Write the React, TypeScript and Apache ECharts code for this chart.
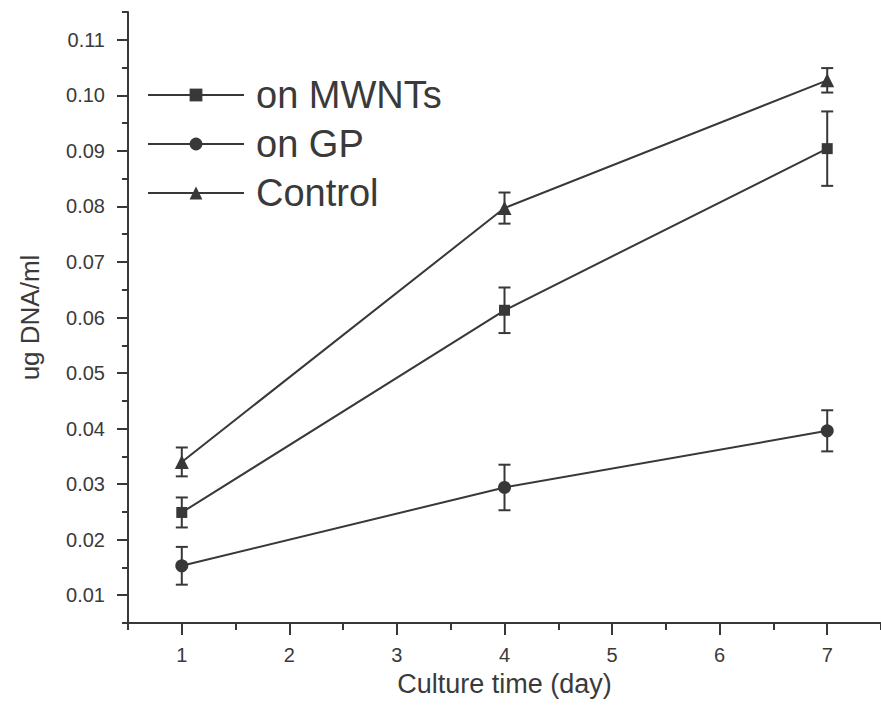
import React, { useEffect, useRef } from "react";
import * as echarts from "echarts";

const days = [1, 4, 7];
const seriesNames = ["on MWNTs", "on GP", "Control"];
const mwntsMean = [0.0249, 0.0613, 0.0904];
const mwntsErr = [0.0027, 0.0041, 0.0067];
const gpMean = [0.0153, 0.0294, 0.0396];
const gpErr = [0.0034, 0.0041, 0.0037];
const controlMean = [0.0340, 0.0797, 0.1027];
const controlErr = [0.0026, 0.0028, 0.0022];
const xMajorTicks = [1, 2, 3, 4, 5, 6, 7];
const yMajorTicks = [0.01, 0.02, 0.03, 0.04, 0.05, 0.06, 0.07, 0.08, 0.09, 0.1, 0.11];

const INK = "#383838";
const FONT = "Liberation Sans, Arial, sans-serif";

function App() {
  const ref = useRef<HTMLDivElement>(null);
  useEffect(() => {
    if (!ref.current) return;
    const chart = echarts.init(ref.current, undefined, { renderer: "svg" });
    const means = [mwntsMean, gpMean, controlMean];
    const errs = [mwntsErr, gpErr, controlErr];
    const symbols = ["rect", "circle", "triangle"];
    const sizes = [11, 13, 14];
    const lineSeries = seriesNames.map((name, i) => ({
      name,
      type: "line",
      xAxisIndex: 0,
      yAxisIndex: 0,
      data: days.map((d, j) => [d, means[i][j]]),
      symbol: symbols[i],
      symbolSize: sizes[i],
      showAllSymbol: true,
      itemStyle: { color: INK },
      lineStyle: { color: INK, width: 2 },
      z: 3,
    }));
    const errSeries = seriesNames.map((name, i) => ({
      name: name + " err",
      type: "custom",
      xAxisIndex: 0,
      yAxisIndex: 0,
      data: days.map((d, j) => [d, means[i][j] - errs[i][j], means[i][j] + errs[i][j]]),
      renderItem: (params: any, api: any) => {
        const x = api.value(0);
        const lo = api.coord([x, api.value(1)]);
        const hi = api.coord([x, api.value(2)]);
        const hw = 6;
        const st = { stroke: INK, lineWidth: 2 };
        return {
          type: "group",
          children: [
            { type: "line", shape: { x1: lo[0], y1: lo[1], x2: hi[0], y2: hi[1] }, style: st },
            { type: "line", shape: { x1: lo[0] - hw, y1: lo[1], x2: lo[0] + hw, y2: lo[1] }, style: st },
            { type: "line", shape: { x1: hi[0] - hw, y1: hi[1], x2: hi[0] + hw, y2: hi[1] }, style: st },
          ],
        };
      },
      z: 2,
    }));
    const axisFont = { color: "#3a3a3a", fontSize: 20, fontFamily: FONT };
    chart.setOption({
      animation: false,
      backgroundColor: "#fff",
      grid: { left: 128, right: -4, top: 12, bottom: 88, containLabel: false },
      legend: {
        data: seriesNames,
        orient: "vertical",
        left: 147,
        top: 76,
        padding: 0,
        itemWidth: 96,
        itemHeight: 16,
        itemGap: 11,
        textStyle: { color: "#3a3a3a", fontSize: 38, fontFamily: FONT, padding: [0, 0, 0, 7] },
      },
      xAxis: [
        {
          type: "value",
          min: 0.5,
          max: 7.5,
          interval: 0.5,
          position: "bottom",
          axisLine: { show: true, lineStyle: { color: INK, width: 2 } },
          axisTick: { show: true, customValues: xMajorTicks, length: 12, inside: false, lineStyle: { color: INK, width: 2 } },
          axisLabel: { show: true, customValues: xMajorTicks, margin: 22, ...axisFont },
          splitLine: { show: false },
          name: "Culture time (day)",
          nameLocation: "middle",
          nameGap: 47,
          nameTextStyle: { color: "#3a3a3a", fontSize: 27, fontFamily: FONT },
        },
        {
          type: "value",
          min: 0.5,
          max: 7.5,
          interval: 0.5,
          position: "bottom",
          axisLine: { show: false },
          axisTick: { show: true, length: 7, lineStyle: { color: INK, width: 2 } },
          axisLabel: { show: false },
          splitLine: { show: false },
        },
      ],
      yAxis: [
        {
          type: "value",
          min: 0.005,
          max: 0.115,
          interval: 0.005,
          position: "left",
          axisLine: { show: true, lineStyle: { color: INK, width: 2 } },
          axisTick: { show: true, customValues: yMajorTicks, length: 11, lineStyle: { color: INK, width: 2 } },
          axisLabel: { show: true, customValues: yMajorTicks, margin: 23, formatter: (v: number) => v.toFixed(2), ...axisFont },
          splitLine: { show: false },
          name: "ug DNA/ml",
          nameLocation: "middle",
          nameGap: 85,
          nameTextStyle: { color: "#3a3a3a", fontSize: 26, fontFamily: FONT },
        },
        {
          type: "value",
          min: 0.005,
          max: 0.115,
          interval: 0.005,
          position: "left",
          axisLine: { show: false },
          axisTick: { show: true, length: 6, lineStyle: { color: INK, width: 2 } },
          axisLabel: { show: false },
          splitLine: { show: false },
        },
      ],
      series: [...errSeries, ...lineSeries],
    });
    return () => chart.dispose();
  }, []);
  return (
    <div
      ref={ref}
      style={{ position: "absolute", left: 0, top: 0, width: 881, height: 711, background: "#fff" }}
    />
  );
}

export default App;
